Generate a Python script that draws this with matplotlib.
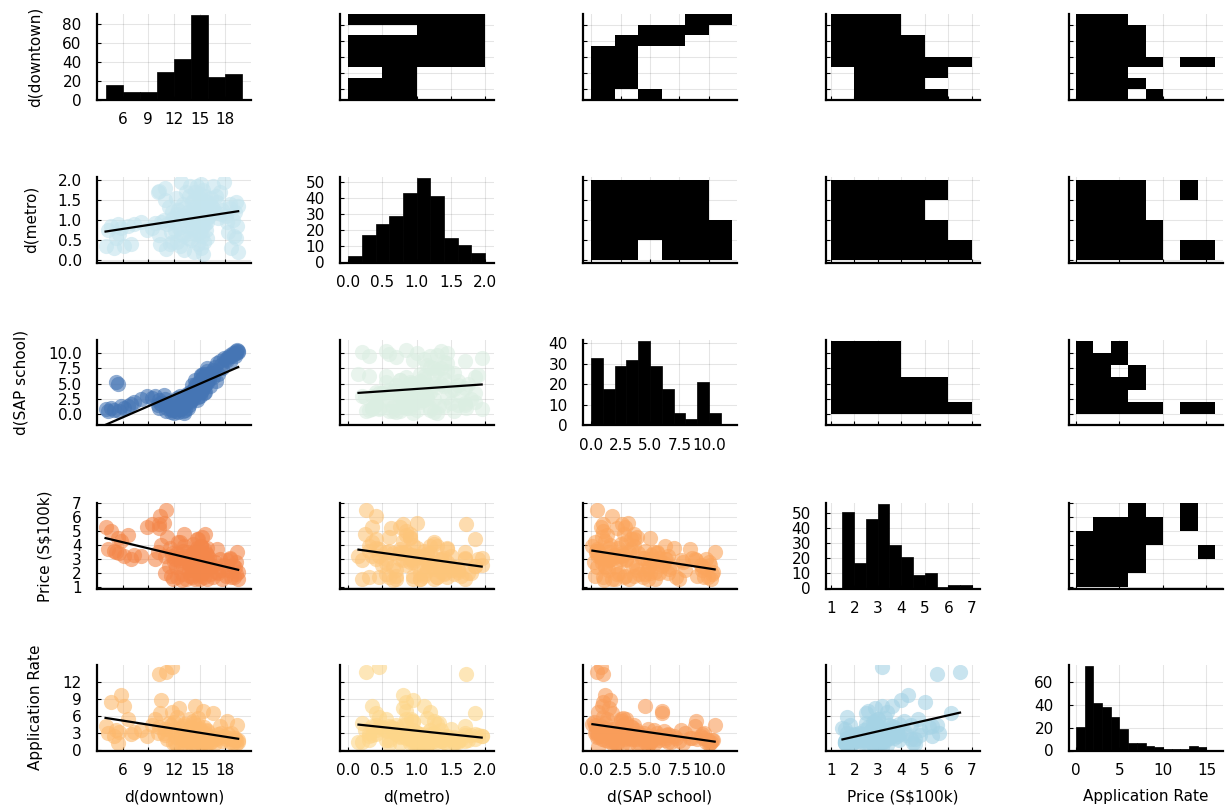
import numpy as np
import matplotlib
matplotlib.use("Agg")
import matplotlib.pyplot as plt
from matplotlib.colors import ListedColormap

plt.rcParams['font.family'] = ['DejaVu Sans']

var_labels = ['d(downtown)', 'd(metro)', 'd(SAP school)', 'Price (S$100k)', 'Application Rate']

# ---- observations (one entry per flat) ----
d_downtown = [4.0, 4.3, 4.6, 5.0, 5.4, 5.8, 6.2, 6.6, 7.0, 7.3, 5.2, 5.6,
              8.2, 8.8, 9.4, 9.8,
              10.1, 10.4, 10.3, 11.1, 11.8, 10.2, 10.5, 10.8, 11.0, 11.2, 11.4, 11.6, 11.8, 10.9, 11.5, 11.9,
              12.0, 12.2, 12.3, 12.5, 12.6, 12.8, 12.9, 13.0, 13.1, 13.2, 13.3, 13.4, 13.5, 13.6, 13.7, 13.8,
              13.9, 12.4, 12.7, 13.2, 12.1, 13.9, 12.9,
              14.0, 14.0, 14.1, 14.2, 14.2, 14.3, 14.4, 14.4, 14.5, 14.6, 14.6, 14.7, 14.8, 14.8, 14.9, 15.0,
              15.0, 15.1, 15.1, 15.2, 15.3, 15.3, 15.4, 15.4, 15.5, 15.5, 15.6, 15.6, 15.7, 15.7, 15.8, 15.8,
              15.9, 15.9, 14.3, 14.7, 15.2, 14.9, 15.4, 15.8, 14.5, 15.6, 14.1, 15.0,
              16.1, 16.3, 16.5, 16.6, 16.8, 17.0, 17.2, 17.4, 17.6, 17.8, 16.9, 17.5, 16.2,
              18.1, 18.3, 18.5, 18.7, 18.9, 19.0, 19.2, 19.3, 19.4, 19.5, 19.1, 18.6, 19.5, 18.2]
d_metro = [0.35, 0.75, 0.85, 0.30, 0.90, 0.80, 0.35, 0.85, 0.40, 0.90, 0.55, 0.65,
           0.95, 0.75, 0.80, 0.92,
           1.70, 0.40, 1.72, 0.26, 0.45, 0.62, 0.95, 1.00, 1.50, 0.90, 1.33, 0.70, 1.20, 1.80, 0.40, 1.05,
           0.95, 1.55, 0.45, 1.25, 0.80, 1.95, 1.10, 0.60, 1.40, 0.25, 1.00, 1.70, 0.85, 1.20, 0.55, 1.60,
           0.95, 1.15, 0.35, 1.30, 0.75, 1.85, 0.65,
           1.05, 0.50, 1.45, 0.80, 1.25, 0.20, 1.70, 0.95, 1.10, 0.65, 1.35, 1.85, 0.40, 1.15, 0.90, 1.55,
           0.70, 1.20, 0.30, 1.00, 1.40, 0.60, 1.75, 0.85, 1.30, 0.45, 1.10, 1.60, 0.75, 1.25, 0.95, 1.45,
           0.55, 1.05, 1.50, 1.00, 1.90, 1.25, 0.15, 1.35, 0.75, 0.90, 1.15, 1.65,
           1.10, 1.55, 1.30, 1.85, 1.20, 1.45, 1.05, 1.70, 1.25, 1.95, 1.60, 1.15, 1.40,
           1.10, 0.70, 1.30, 0.30, 1.00, 0.60, 0.55, 1.45, 0.85, 0.20, 1.20, 1.40, 1.35, 0.95]
d_sap = [0.8, 0.5, 1.0, 0.6, 5.0, 1.2, 0.9, 1.3, 1.6, 2.0, 5.3, 0.4,
         2.5, 2.9, 2.6, 3.0,
         1.5, 1.8, 1.0, 0.5, 0.8, 2.2, 1.6, 3.1, 1.8, 0.9, 1.2, 0.3, 0.6, 2.4, 1.5, 2.0,
         0.2, 0.5, 1.0, 0.3, 1.5, 0.8, 2.2, 0.4, 1.2, 2.8, 0.6, 1.8, 3.2, 0.9, 2.5, 1.4,
         3.6, 2.6, 3.0, 0.1, 1.8, 2.0, 1.1,
         2.2, 3.5, 2.8, 4.0, 2.5, 3.0, 4.3, 3.2, 4.6, 3.8, 5.0, 3.4, 3.6, 2.7, 5.2, 4.1,
         4.8, 3.6, 6.3, 4.5, 5.8, 3.9, 5.0, 6.0, 4.4, 3.4, 6.3, 4.8, 5.6, 6.6, 5.1, 7.0,
         6.2, 5.4, 3.9, 2.3, 6.4, 4.9, 6.5, 7.6, 5.6, 3.6, 4.8, 2.9,
         5.8, 6.8, 7.2, 6.0, 7.8, 8.4, 6.5, 8.8, 7.5, 9.3, 5.4, 8.0, 4.6,
         9.0, 9.4, 9.8, 9.6, 10.1, 9.9, 10.3, 10.0, 10.5, 10.2, 9.5, 8.6, 10.4, 8.9]
price = [5.3, 3.7, 5.0, 3.6, 4.5, 4.3, 3.2, 4.7, 3.0, 3.3, 3.5, 3.4,
         3.2, 5.3, 5.5, 3.0,
         3.5, 6.1, 5.5, 6.5, 3.2, 5.2, 4.0, 5.6, 3.2, 4.6, 2.5, 1.8, 3.4, 2.0, 3.8, 1.6,
         2.8, 2.4, 1.7, 4.2, 2.9, 3.1, 1.9, 3.6, 2.4, 4.8, 3.2, 1.6, 3.5, 2.7, 3.0, 2.2,
         1.8, 3.4, 4.2, 3.9, 3.0, 2.5, 1.5,
         3.2, 2.6, 1.7, 3.4, 4.1, 2.9, 3.1, 1.6, 3.6, 2.4, 3.0, 4.4, 4.4, 3.3, 2.8, 1.9,
         1.6, 3.9, 3.9, 3.1, 2.0, 4.6, 2.0, 2.6, 1.7, 3.7, 3.0, 2.3, 3.4, 2.3, 3.3, 3.8,
         2.7, 1.6, 2.2, 3.8, 3.0, 2.5, 3.2, 2.9, 3.5, 4.8, 2.8, 1.8,
         3.1, 2.4, 1.7, 2.5, 2.8, 3.7, 2.0, 3.0, 1.6, 2.6, 2.1, 2.2, 1.9,
         1.8, 2.2, 3.0, 1.7, 2.6, 1.7, 1.9, 2.8, 3.5, 1.6, 2.4, 3.1, 2.1, 2.9]
app_rate = [4.2, 3.0, 8.5, 2.5, 1.2, 9.8, 7.8, 5.5, 2.8, 3.2, 3.5, 3.2,
            3.5, 2.4, 4.5, 5.5,
            3.0, 6.5, 13.5, 13.8, 14.7, 4.0, 8.8, 3.0, 3.8, 2.0, 4.8, 4.4, 6.8, 2.6, 3.5, 1.2,
            5.0, 2.3, 5.8, 3.0, 7.5, 2.4, 1.1, 4.2, 1.8, 3.6, 0.6, 1.6, 2.2, 3.6, 5.5, 1.6,
            1.9, 0.9, 2.7, 4.6, 1.3, 2.9, 3.9,
            1.5, 4.0, 2.2, 3.1, 5.2, 4.8, 2.6, 1.2, 7.8, 3.5, 1.6, 2.0, 4.5, 5.6, 2.3, 1.3,
            3.8, 2.8, 1.7, 3.0, 2.4, 1.1, 1.7, 7.0, 1.9, 4.1, 2.1, 1.4, 3.0, 2.6, 1.6, 2.5,
            3.4, 1.2, 1.9, 3.0, 2.7, 2.0, 1.5, 3.6, 2.3, 2.6, 0.8, 2.0,
            1.8, 1.5, 2.2, 6.5, 1.3, 2.1, 2.9, 4.2, 1.6, 2.4, 1.9, 3.1, 1.4,
            2.0, 2.8, 1.4, 3.0, 1.3, 1.8, 1.8, 1.1, 4.5, 1.5, 2.2, 2.2, 1.7, 5.2]

# ---- 1-D histograms (bin edges, counts) ----
hist_edges = [
    [4, 6, 8, 10, 12, 14, 16, 18, 20],
    [0.0, 0.2, 0.4, 0.6, 0.8, 1.0, 1.2, 1.4, 1.6, 1.8, 2.0],
    [0, 1, 2, 3, 4, 5, 6, 7, 8, 9, 10, 11],
    [1.5, 2.0, 2.5, 3.0, 3.5, 4.0, 4.5, 5.0, 5.5, 6.0, 6.5, 7.0],
    [0, 1, 2, 3, 4, 5, 6, 7, 8, 9, 10, 11, 12, 13, 14, 15],
]
hist_counts = [
    [15, 8, 8, 29, 43, 89, 24, 27],
    [4, 17, 24, 29, 43, 52, 41, 15, 11, 6],
    [33, 18, 29, 32, 41, 29, 18, 6, 3, 21, 6],
    [51, 17, 46, 56, 29, 21, 9, 10, 1, 2, 2],
    [21, 74, 42, 38, 29, 19, 7, 7, 4, 3, 1, 1, 1, 4, 3],
]
hist_yticks = [[0, 20, 40, 60, 80], [0, 10, 20, 30, 40, 50], [0, 10, 20, 30, 40],
               [0, 10, 20, 30, 40, 50], [0, 20, 40, 60]]

# ---- 2-D histogram occupancy (edges; rows listed from low to high y) ----
edges2d = [
    [4, 6, 8, 10, 12, 14, 16, 18, 20],
    [0.0, 0.5, 1.0, 1.5, 2.0],
    [0, 2, 4, 6, 8, 10, 12],
    [1, 2, 3, 4, 5, 6, 7],
    [0, 2, 4, 6, 8, 10, 12, 14, 16],
]
occ_metro_downtown = [[1, 1, 0, 0], [1, 1, 0, 0], [0, 1, 0, 0], [1, 1, 1, 1],
                      [1, 1, 1, 1], [1, 1, 1, 1], [0, 0, 1, 1], [1, 1, 1, 1]]
occ_sap_downtown = [[1, 0, 1, 0, 0, 0], [1, 1, 0, 0, 0, 0], [1, 1, 0, 0, 0, 0], [1, 1, 0, 0, 0, 0],
                    [1, 1, 0, 0, 0, 0], [0, 1, 1, 1, 0, 0], [0, 0, 1, 1, 1, 0], [0, 0, 0, 0, 1, 1]]
occ_price_downtown = [[0, 1, 1, 1, 1, 0], [0, 1, 1, 1, 0, 0], [0, 1, 1, 1, 1, 0], [1, 1, 1, 1, 1, 1],
                      [1, 1, 1, 1, 0, 0], [1, 1, 1, 1, 0, 0], [1, 1, 1, 0, 0, 0], [1, 1, 1, 0, 0, 0]]
occ_app_downtown = [[1, 1, 1, 0, 1, 0, 0, 0], [1, 1, 1, 1, 0, 0, 0, 0], [1, 1, 1, 0, 0, 0, 0, 0],
                    [1, 1, 1, 1, 1, 0, 1, 1], [1, 1, 1, 1, 0, 0, 0, 0], [1, 1, 1, 1, 0, 0, 0, 0],
                    [1, 1, 1, 1, 0, 0, 0, 0], [1, 1, 1, 0, 0, 0, 0, 0]]
occ_sap_metro = [[1, 1, 0, 1, 1, 1], [1, 1, 1, 1, 1, 1], [1, 1, 1, 1, 1, 0], [1, 1, 1, 1, 1, 0]]
occ_price_metro = [[1, 1, 1, 1, 1, 1], [1, 1, 1, 1, 1, 0], [1, 1, 1, 1, 0, 0], [1, 1, 1, 1, 1, 0]]
occ_app_metro = [[1, 1, 1, 1, 1, 0, 1, 1], [1, 1, 1, 1, 1, 0, 0, 0],
                 [1, 1, 1, 1, 0, 0, 0, 0], [1, 1, 1, 1, 0, 0, 1, 0]]
occ_price_sap = [[1, 1, 1, 1, 1, 1], [1, 1, 1, 1, 1, 0], [1, 1, 1, 1, 1, 0],
                 [1, 1, 1, 0, 0, 0], [1, 1, 1, 0, 0, 0], [1, 1, 1, 0, 0, 0]]
occ_app_sap = [[1, 1, 1, 1, 1, 0, 1, 1], [1, 1, 1, 0, 0, 0, 0, 0], [1, 1, 1, 1, 0, 0, 0, 0],
               [1, 1, 0, 1, 0, 0, 0, 0], [1, 1, 1, 0, 0, 0, 0, 0], [1, 0, 1, 0, 0, 0, 0, 0]]
occ_app_price = [[1, 1, 1, 0, 0, 0, 0, 0], [1, 1, 1, 1, 0, 0, 0, 0], [1, 1, 1, 1, 0, 0, 0, 1],
                 [1, 1, 1, 1, 1, 0, 0, 0], [0, 1, 1, 1, 1, 0, 1, 0], [0, 0, 0, 1, 0, 0, 1, 0]]
occupancy = {(0, 1): occ_metro_downtown, (0, 2): occ_sap_downtown, (0, 3): occ_price_downtown,
             (0, 4): occ_app_downtown, (1, 2): occ_sap_metro, (1, 3): occ_price_metro,
             (1, 4): occ_app_metro, (2, 3): occ_price_sap, (2, 4): occ_app_sap, (3, 4): occ_app_price}

# ---- styling ----
scatter_colors = {(1, 0): '#c4e4ee', (2, 0): '#4575b4', (2, 1): '#dbeee2',
                  (3, 0): '#f4874a', (3, 1): '#fdc57a', (3, 2): '#fba55c',
                  (4, 0): '#fdb96d', (4, 1): '#fdd68a', (4, 2): '#f99d5a', (4, 3): '#a5d3e5'}

xlims = [(3.0, 21.0), (-0.12, 2.13), (-0.7, 12.4), (0.8, 7.35), (-0.8, 16.9)]
row_ylims = [(4, 20), (-0.07, 2.08), (-1.95, 12.2), (0.9, 7.0), (-0.1, 15.1)]
ticks = [[6, 9, 12, 15, 18], [0.0, 0.5, 1.0, 1.5, 2.0], [0.0, 2.5, 5.0, 7.5, 10.0],
         [1, 2, 3, 4, 5, 6, 7], [0, 5, 10, 15]]
tick_labels = [['6', '9', '12', '15', '18'], ['0.0', '0.5', '1.0', '1.5', '2.0'],
               ['0.0', '2.5', '5.0', '7.5', '10.0'], ['1', '2', '3', '4', '5', '6', '7'],
               ['0', '5', '10', '15']]
row_ticks = [[6, 9, 12, 15, 18], [0.0, 0.5, 1.0, 1.5, 2.0], [0.0, 2.5, 5.0, 7.5, 10.0],
             [1, 2, 3, 4, 5, 6, 7], [0, 3, 6, 9, 12]]
row_tick_labels = [['6', '9', '12', '15', '18'], ['0.0', '0.5', '1.0', '1.5', '2.0'],
                   ['0.0', '2.5', '5.0', '7.5', '10.0'], ['1', '2', '3', '4', '5', '6', '7'],
                   ['0', '3', '6', '9', '12']]

W, H = 1227, 806
lefts = [97, 340, 583, 826, 1069]
tops = [14, 177, 340, 503, 665]
pw, ph = 154, 85.5

fig = plt.figure(figsize=(W / 100, H / 100), dpi=100)
data = [np.array(v) for v in (d_downtown, d_metro, d_sap, price, app_rate)]
black_map = ListedColormap(['black'])
FS = 11

def style(ax):
    for s in ('top', 'right'):
        ax.spines[s].set_visible(False)
    for s in ('left', 'bottom'):
        ax.spines[s].set_linewidth(1.6)
        ax.spines[s].set_color('black')
    ax.grid(True, color='black', alpha=0.1, linewidth=0.8)
    ax.set_axisbelow(True)
    ax.tick_params(direction='in', length=3, width=0.8, labelsize=FS, colors='black')
    ax.tick_params(axis='y', pad=11)
    ax.tick_params(axis='x', pad=9)

for i in range(5):
    for j in range(5):
        ax = fig.add_axes([lefts[j] / W, 1 - (tops[i] + ph) / H, pw / W, ph / H])
        style(ax)
        ax.set_xlim(*xlims[j])
        ax.set_xticks(ticks[j])
        if i == j:
            e = np.array(hist_edges[i])
            c = np.array(hist_counts[i])
            ax.bar(e[:-1], c, width=np.diff(e), align='edge', color='black',
                   edgecolor='black', linewidth=0.5, zorder=2)
            ax.set_ylim(0, max(c) * 1.015)
            ax.set_yticks(hist_yticks[i])
            ax.set_xticklabels(tick_labels[j])
        else:
            ax.set_ylim(*row_ylims[i])
            ax.set_yticks(row_ticks[i])
            if i > j:
                x, y = data[j], data[i]
                ax.scatter(x, y, s=120, color=scatter_colors[(i, j)], alpha=0.6,
                           linewidths=0, zorder=2)
                k, b = np.polyfit(x, y, 1)
                xs = np.array([x.min(), x.max()])
                ax.plot(xs, k * xs + b, color='black', linewidth=1.6, zorder=3)
            else:
                occ = np.array(occupancy[(i, j)], dtype=float)
                occ = np.ma.masked_equal(occ, 0)
                ax.pcolormesh(edges2d[j], edges2d[i], occ, cmap=black_map, zorder=2)
            if i == 4:
                ax.set_xticklabels(tick_labels[j])
            else:
                ax.set_xticklabels([])
            if j == 0:
                ax.set_yticklabels(row_tick_labels[i])
            else:
                ax.set_yticklabels([])
        if j == 0:
            ax.set_ylabel(var_labels[i], fontsize=FS, labelpad=14)
        if i == 4:
            ax.set_xlabel(var_labels[j], fontsize=FS, labelpad=8)

fig.savefig('out.png', dpi=100)
